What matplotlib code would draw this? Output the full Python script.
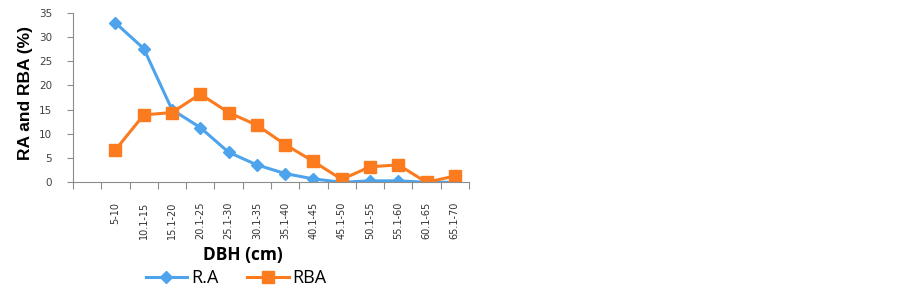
import matplotlib.pyplot as plt
import numpy as np

# DBH classes (first slot of the axis is left empty in the original)
dbh_classes = ["", "5-10", "10.1-15", "15.1-20", "20.1-25", "25.1-30", "30.1-35",
               "35.1-40", "40.1-45", "45.1-50", "50.1-55", "55.1-60", "60.1-65", "65.1-70"]
ra = [32.9, 27.6, 15.0, 11.3, 6.2, 3.6, 1.8, 0.7, 0.0, 0.3, 0.3, 0.0, 0.0]
rba = [6.7, 13.9, 14.4, 18.2, 14.4, 11.8, 7.8, 4.3, 0.6, 3.2, 3.6, 0.0, 1.3]

blue = '#4DA3EC'
orange = '#FB7B1E'
grey = '#8C8C8C'

fig = plt.figure(figsize=[9.03, 2.89], dpi=100)
ax = fig.add_axes([73 / 903, 1 - 182.3 / 289, (469 - 73) / 903, (182.3 - 12.7) / 289])

xpos = np.arange(1, len(dbh_classes))
ax.plot(xpos, ra, color=blue, lw=2.2, marker='D', markersize=6.5, label='R.A')
ax.plot(xpos, rba, color=orange, lw=2.2, marker='s', markersize=8.5, label='RBA')

ax.set_xlim(-0.5, len(dbh_classes) - 0.5)
ax.set_ylim(0, 35)
ax.set_yticks(range(0, 36, 5))
ax.set_xticks(np.arange(-0.5, len(dbh_classes), 1))
ax.set_xticklabels([])
ax.set_xticks(np.arange(len(dbh_classes)), minor=True)
ax.set_xticklabels(dbh_classes, minor=True, rotation=90, fontsize=7, color='#333333')
ax.tick_params(axis='x', which='minor', length=0, pad=14)
ax.tick_params(axis='x', which='major', length=5, color=grey, direction='out')
ax.tick_params(axis='y', length=4, pad=11, color=grey, labelsize=7.5, labelcolor='#404040')

for s in ['top', 'right']:
    ax.spines[s].set_visible(False)
for s in ['left', 'bottom']:
    ax.spines[s].set_color(grey)
    ax.spines[s].set_linewidth(0.8)

fig.text(26 / 903, 1 - 93 / 289, 'RA and RBA (%)', fontsize=12.5, fontweight='bold',
         family='Liberation Sans', rotation=90, ha='center', va='center')
fig.text(243 / 903, 1 - 255 / 289, 'DBH (cm)', fontsize=12.5, fontweight='bold',
         family='Open Sans', ha='center', va='center')

ax.legend(loc='center', bbox_to_anchor=(236 / 903, 1 - 278 / 289), bbox_transform=fig.transFigure,
          ncol=2, frameon=False, handlelength=2.3, columnspacing=1.6,
          handletextpad=0.2, borderpad=0, prop={'family': 'Open Sans', 'size': 13})

plt.savefig('out.png', dpi=100)
